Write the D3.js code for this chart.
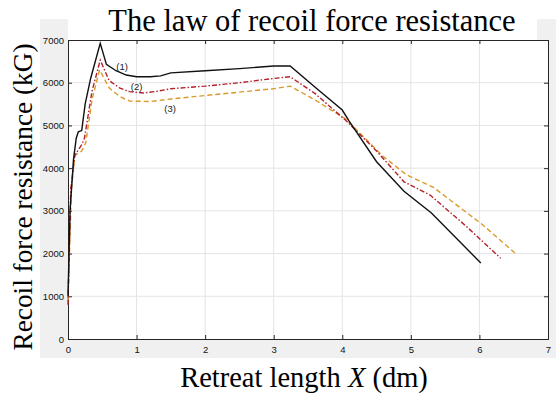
<!DOCTYPE html>
<html>
<head>
<meta charset="utf-8">
<script src="https://cdn.jsdelivr.net/npm/d3@7"></script>
<style>
  body { margin: 0; background: #fff; }
  svg { display: block; }
</style>
</head>
<body>
<div id="chart"></div>
<script>
// values: [retreat length (dm), force (kG)]
const curve1 = [[0, 1000], [0.03, 3000], [0.08, 4200], [0.12, 4700], [0.15, 4850], [0.2, 4880],
  [0.25, 5500], [0.33, 6100], [0.47, 6920], [0.56, 6430], [0.7, 6280], [0.85, 6180], [1.0, 6140],
  [1.2, 6140], [1.35, 6160], [1.5, 6230], [2.0, 6280], [2.5, 6330], [3.0, 6390], [3.24, 6390],
  [3.6, 5900], [4.0, 5360], [4.1, 5100], [4.5, 4150], [4.9, 3460], [5.3, 2950], [6.02, 1780]];
const curve2 = [[0, 800], [0.04, 3500], [0.1, 4300], [0.2, 4550], [0.24, 4700], [0.35, 5800],
  [0.47, 6530], [0.6, 6050], [0.75, 5880], [0.9, 5790], [1.1, 5760], [1.3, 5800], [1.5, 5860],
  [2.0, 5920], [2.5, 6000], [3.0, 6100], [3.24, 6140], [3.6, 5750], [4.05, 5120], [4.5, 4400],
  [4.9, 3680], [5.28, 3370], [5.8, 2650], [6.31, 1890]];
const curve3 = [[0, 900], [0.05, 3500], [0.1, 4300], [0.2, 4400], [0.26, 4600], [0.35, 5600],
  [0.46, 6300], [0.6, 5880], [0.75, 5680], [0.9, 5570], [1.2, 5560], [1.5, 5620], [2.0, 5700],
  [2.5, 5780], [3.0, 5860], [3.24, 5920], [3.6, 5600], [4.05, 5150], [4.6, 4270], [4.94, 3840],
  [5.33, 3550], [6.05, 2670], [6.52, 2010]];
const xTicks = [0, 1, 2, 3, 4, 5, 6, 7];
const yTicks = [0, 1000, 2000, 3000, 4000, 5000, 6000, 7000];
const curveLabels = [["(1)", 0.79, 6300], ["(2)", 1.0, 5830], ["(3)", 1.49, 5320]];

const W = 556, H = 394;
const margin = { top: 40, right: 8, bottom: 55, left: 68 };

const svg = d3.select("#chart").append("svg")
  .attr("width", W).attr("height", H);

// MATLAB-like grey figure backdrop, with white patches behind the text
svg.append("rect").attr("x", 40).attr("y", 19).attr("width", W - 40).attr("height", 339).attr("fill", "#f0f0f0");
svg.append("rect").attr("x", 68).attr("y", 0).attr("width", 469).attr("height", 40).attr("fill", "#fff");
svg.append("rect").attr("x", 43).attr("y", 358).attr("width", W - 43).attr("height", 36).attr("fill", "#fff");

const x = d3.scaleLinear().domain([0, 7]).range([margin.left, W - margin.right]);
const y = d3.scaleLinear().domain([0, 7000]).range([H - margin.bottom, margin.top]);

svg.append("rect")
  .attr("x", x(0)).attr("y", y(7000))
  .attr("width", x(7) - x(0)).attr("height", y(0) - y(7000))
  .attr("fill", "#fff");

// grid
svg.append("g").selectAll("line").data(xTicks.slice(1, -1)).join("line")
  .attr("x1", d => x(d)).attr("x2", d => x(d))
  .attr("y1", y(0)).attr("y2", y(7000))
  .attr("stroke", "#e4e4e4").attr("stroke-width", 1);
svg.append("g").selectAll("line").data(yTicks.slice(1, -1)).join("line")
  .attr("x1", x(0)).attr("x2", x(7))
  .attr("y1", d => y(d)).attr("y2", d => y(d))
  .attr("stroke", "#e4e4e4").attr("stroke-width", 1);

// axes, ticks pointing inward
const tickFont = g => g.selectAll("text")
  .attr("font-family", "Liberation Sans, Arial, sans-serif")
  .attr("font-size", 9.5).attr("fill", "#111");

svg.append("g")
  .attr("transform", `translate(0,${y(0)})`)
  .call(d3.axisBottom(x).tickValues(xTicks).tickSize(-4).tickPadding(7).tickFormat(d3.format("d")))
  .call(g => g.select(".domain").attr("stroke", "#262626"))
  .call(g => g.selectAll(".tick line").attr("stroke", "#262626"))
  .call(tickFont);

svg.append("g")
  .attr("transform", `translate(${x(0)},0)`)
  .call(d3.axisLeft(y).tickValues(yTicks).tickSize(-4).tickPadding(4).tickFormat(d3.format("d")))
  .call(g => g.select(".domain").attr("stroke", "#262626"))
  .call(g => g.selectAll(".tick line").attr("stroke", "#262626"))
  .call(tickFont);

svg.append("g")
  .attr("transform", `translate(0,${y(7000)})`)
  .call(d3.axisTop(x).tickValues(xTicks).tickSize(-4).tickFormat(""))
  .call(g => g.select(".domain").attr("stroke", "#262626"))
  .call(g => g.selectAll(".tick line").attr("stroke", "#262626"));

svg.append("g")
  .attr("transform", `translate(${x(7)},0)`)
  .call(d3.axisRight(y).tickValues(yTicks).tickSize(-4).tickFormat(""))
  .call(g => g.select(".domain").attr("stroke", "#262626"))
  .call(g => g.selectAll(".tick line").attr("stroke", "#262626"));

// curves
const line = d3.line().x(d => x(d[0])).y(d => y(d[1]));
const series = [
  { data: curve3, color: "#d99a2b", dash: "5,3" },
  { data: curve2, color: "#b5202a", dash: "5,2,1.5,2" },
  { data: curve1, color: "#111", dash: null }
];
svg.append("g").selectAll("path").data(series).join("path")
  .attr("d", d => line(d.data))
  .attr("fill", "none")
  .attr("stroke", d => d.color)
  .attr("stroke-width", 1.4)
  .attr("stroke-dasharray", d => d.dash);

svg.append("g").selectAll("text").data(curveLabels).join("text")
  .attr("x", d => x(d[1])).attr("y", d => y(d[2]))
  .attr("text-anchor", "middle")
  .attr("font-family", "Liberation Sans, Arial, sans-serif")
  .attr("font-size", 9.5).attr("fill", "#222")
  .text(d => d[0]);

// titles
const serif = "Liberation Serif, Times New Roman, serif";
svg.append("text")
  .attr("x", 312).attr("y", 31)
  .attr("text-anchor", "middle")
  .attr("font-family", serif).attr("font-size", 30.5)
  .text("The law of recoil force resistance");

const xl = svg.append("text")
  .attr("x", 304).attr("y", 387)
  .attr("text-anchor", "middle")
  .attr("font-family", serif).attr("font-size", 28.5);
xl.append("tspan").text("Retreat length ");
xl.append("tspan").attr("font-style", "italic").text("X");
xl.append("tspan").text(" (dm)");

svg.append("text")
  .attr("transform", "translate(32,197) rotate(-90)")
  .attr("text-anchor", "middle")
  .attr("font-family", serif).attr("font-size", 27.3)
  .text("Recoil force resistance (kG)");
</script>
</body>
</html>
